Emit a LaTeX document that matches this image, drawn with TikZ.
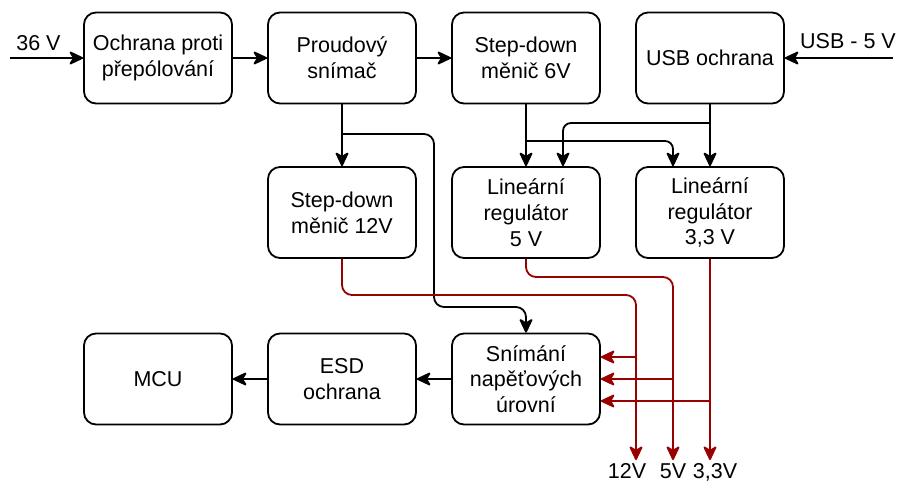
\documentclass[tikz,border=0pt]{standalone}
\usepackage{fontspec}
\setmainfont{Liberation Sans}
\usetikzlibrary{arrows.meta,calc}
\definecolor{wire}{HTML}{990000}
\begin{document}
\begin{tikzpicture}[x=1pt,y=-1pt,
  txt/.style={font=\fontsize{21.5}{25.8}\selectfont},
  block/.style={txt,draw,line width=1.8pt,rounded corners=12pt,
    minimum width=148pt,minimum height=91pt,align=center,inner sep=0pt},
  link/.style={line width=1.8pt,
    -{Stealth[length=16pt,width=15pt,inset=4.5pt,round]}},
  plink/.style={link,color=wire},
]
\useasboundingbox (0,0) rectangle (899,484);

% top row
\node[block] (prot)   at (158,58)  {Ochrana proti\\přepólování};
\node[block] (proud)  at (342,58)  {Proudový\\snímač};
\node[block] (sd6)    at (526,58)  {Step-down\\měnič 6V};
\node[block] (usb)    at (710,58)  {USB ochrana};
% middle row
\node[block] (sd12)   at (342,212.5) {Step-down\\měnič 12V};
\node[block] (lin5)   at (526,212.5) {Lineární\\regulátor\\5 V};
\node[block] (lin33)  at (710,212.5) {Lineární\\regulátor\\3,3 V};
% bottom row
\node[block] (mcu)    at (158,379) {MCU};
\node[block] (esd)    at (342,379) {ESD\\ochrana};
\node[block] (sniman) at (526,379) {Snímání\\napěťových\\úrovní};

% supply inputs
\coordinate (in36) at (10,58);
\coordinate (in5)  at (893,58);
\node[txt,anchor=base] (l36) at (38.5,51) {36 V};
\node[txt,anchor=base] (l5)  at (848,49) {USB - 5 V};
\draw[link] (in36) -- (prot.west);
\draw[link] (in5) -- (usb.east);

% main chain
\draw[link] (prot.east) -- (proud.west);
\draw[link] (proud.east) -- (sd6.west);
\draw[link] (proud.south) -- (sd12.north);
\draw[link] (sd6.south) -- (lin5.north);
\draw[link] (usb.south) -- (lin33.north);
\draw[link] (sniman.west) -- (esd.east);
\draw[link] (esd.west) -- (mcu.east);

% branches with rounded bends
\coordinate (j1) at (342,134);
\draw[link,rounded corners=10pt] (j1) -- (434,134) -- (434,307)
  -- (sniman.north |- 0,307) -- (sniman.north);
\coordinate (j2) at (526,141);
\draw[link,rounded corners=8pt] (j2) -| ($(lin33.north)+(-37,0)$);
\coordinate (j3) at (710,123);
\draw[link,rounded corners=8pt] (j3) -| ($(lin5.north)+(37,0)$);

% supply rails
\coordinate (out12) at (636,460);
\coordinate (out5)  at (673,460);
\coordinate (out33) at (710,460);
\draw[plink,rounded corners=10pt] (sd12.south) |- (out12 |- 0,295) -- (out12);
\draw[plink,rounded corners=10pt] (lin5.south) |- (out5 |- 0,277) -- (out5);
\draw[plink] (lin33.south) -- (out33);
\draw[plink] (out12 |- 0,357) -- (sniman.east |- 0,357);
\draw[plink] (out5 |- 0,379) -- (sniman.east |- 0,379);
\draw[plink] (out33 |- 0,401) -- (sniman.east |- 0,401);

\node[txt,anchor=base] (t12) at (627,478) {12V};
\node[txt,anchor=base] (t5)  at (673,478) {5V};
\node[txt,anchor=base] (t33) at (715,478) {3,3V};
\end{tikzpicture}
\end{document}
